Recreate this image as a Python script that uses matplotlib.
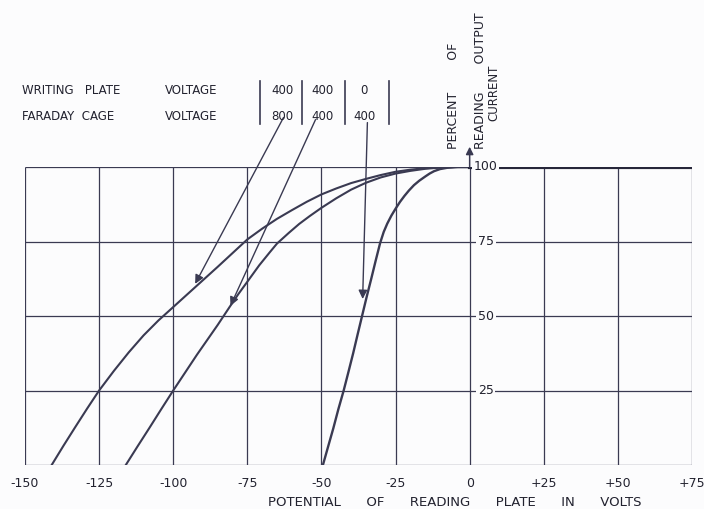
"""Reading output current vs. reading plate potential (scanned chart redraw)."""

import matplotlib
matplotlib.use("Agg")
import matplotlib.pyplot as plt

# ---------------------------------------------------------------------------
# Data
# ---------------------------------------------------------------------------

# writing plate 400 V / faraday cage 800 V
curve_a_x = [-141, -137, -133, -129, -125, -120, -115, -110, -105, -100, -95, -90,
             -85, -80, -75, -70, -65, -60, -55, -50, -45, -40, -35, -30, -25,
             -20, -15, -10, -5, 0]
curve_a_y = [0, 6.5, 12.8, 19, 25, 31.6, 37.8, 43.5, 48.5, 53, 57.5, 62,
             66.5, 71.1, 75.7, 79.3, 82.6, 85.5, 88.3, 90.8, 92.8, 94.6, 96, 97.3, 98.4,
             99.1, 99.6, 99.85, 100, 100]

# writing plate 400 V / faraday cage 400 V
curve_b_x = [-116, -112, -108, -104, -100, -96, -92, -88.5, -85, -81, -78, -75,
             -71, -67.5, -65, -61, -57.5, -54, -50, -45, -40, -35, -30, -25,
             -20, -15, -10, -5, 0]
curve_b_y = [0, 6.3, 12.5, 18.8, 25, 31, 37, 42, 47, 53, 57.4, 61.5,
             67, 71.3, 74.3, 77.9, 80.9, 83.5, 86.3, 89.5, 92.4, 94.7, 96.5, 97.8,
             98.7, 99.4, 99.8, 100, 100]

# writing plate 0 V / faraday cage 400 V
curve_c_x = [-49.5, -47.8, -46, -44.3, -42.5, -40.9, -39.3, -37.8, -36.3, -34.8,
             -33.2, -31.7, -30.2, -29, -27.8, -26.4, -25, -23.5, -22, -20.5,
             -18.8, -17, -15, -13.5, -12, -10, -7.5, -4, 0]
curve_c_y = [0, 6, 12.3, 18.7, 25, 31.2, 37.5, 43.8, 50, 56.2,
             62.5, 68.6, 74.5, 78.2, 81, 83.7, 86, 88.3, 90.3, 92.1,
             93.9, 95.4, 96.8, 97.8, 98.6, 99.3, 99.75, 100, 100]

# flat 100 % region for positive potentials
flat_x = [0, 75]
flat_y = [100, 100]

x_ticks = [-150, -125, -100, -75, -50, -25, 0, 25, 50, 75]
x_tick_labels = ["-150", "-125", "-100", "-75", "-50", "-25", "0", "+25", "+50", "+75"]
y_ticks = [0, 25, 50, 75, 100]
y_tick_labels = ["", "25", "50", "75", "100"]

writing_plate_v = ["400", "400", "0"]
faraday_cage_v = ["800", "400", "400"]

# arrows from the table columns to the curves: (start x, start y) -> (tip x, tip y)
arrow_starts = [(-62.8, 116.6), (-52.0, 115.9), (-34.5, 114.9)]
arrow_tips = [(-92.6, 60.8), (-80.7, 53.4), (-36.1, 55.7)]

# ---------------------------------------------------------------------------

INK = "#3a3a52"
TXT = "#22222f"
BG = "#fcfcfd"
W, H = 704, 509
plt.rcParams["font.family"] = "DejaVu Sans"


def fx(px):
    return px / W


def fy(py):
    return 1 - py / H


fig = plt.figure(figsize=(W / 100, H / 100), dpi=100, facecolor=BG)
ax = fig.add_axes([fx(25), fy(465), fx(692) - fx(25), fy(167) - fy(465)])
ax.set_xlim(-150, 75)
ax.set_ylim(0, 100)
ax.axis("off")

# grid
ax.vlines(x_ticks, 0, 100, color=INK, lw=0.9, zorder=1)
ax.hlines(y_ticks, -150, 75, color=INK, lw=0.9, zorder=1)

# curves
for xs, ys in [(curve_a_x, curve_a_y), (curve_b_x, curve_b_y)]:
    ax.plot(xs, ys, color=INK, lw=1.5, zorder=3)
ax.plot(curve_c_x, curve_c_y, color=INK, lw=1.7, zorder=3)
ax.plot(flat_x, flat_y, color="#26263a", lw=3.0, zorder=3)

# y tick labels sitting on the zero-volt axis
for v, lab in zip(y_ticks, y_tick_labels):
    if lab:
        ax.text(5.4, v, lab, ha="center", va="center", fontsize=9, color=TXT,
                zorder=5, bbox=dict(boxstyle="square,pad=0.15", fc=BG, ec="none"))

# x tick labels
for v, lab in zip(x_ticks, x_tick_labels):
    ax.text(v, -6.3, lab, ha="center", va="center", fontsize=9, color=TXT,
            clip_on=False)

ax.text(-5, -12.6,
        "POTENTIAL      OF      READING      PLATE      IN      VOLTS",
        ha="center", va="center", fontsize=9.5, color=TXT, clip_on=False)

# vertical axis arrow
ax.annotate("", xy=(0, 106.8), xytext=(0, 100), annotation_clip=False,
            arrowprops=dict(arrowstyle="-|>", color=INK, lw=1.1,
                            mutation_scale=11, shrinkA=0, shrinkB=0))

# rotated axis title
ax.text(-5.6, 106, "PERCENT        OF", rotation=90, ha="center", va="bottom",
        fontsize=9, color=TXT, clip_on=False)
ax.text(3.6, 106, "READING       OUTPUT", rotation=90, ha="center", va="bottom",
        fontsize=9, color=TXT, clip_on=False)
ax.text(8.0, 125, "CURRENT", rotation=90, ha="center", va="center",
        fontsize=8.5, color=TXT, clip_on=False)

# pointer arrows
for (x0, y0), (x1, y1) in zip(arrow_starts, arrow_tips):
    ax.annotate("", xy=(x1, y1), xytext=(x0, y0), annotation_clip=False,
                arrowprops=dict(arrowstyle="-|>", color=INK, lw=1.0,
                                mutation_scale=13, shrinkA=0, shrinkB=0))

# table of voltages
fig.text(fx(22), fy(91), "WRITING   PLATE", fontsize=8.5, color=TXT, va="center")
fig.text(fx(165), fy(91), "VOLTAGE", fontsize=8.5, color=TXT, va="center")
fig.text(fx(22), fy(116), "FARADAY  CAGE", fontsize=8.5, color=TXT, va="center")
fig.text(fx(165), fy(116), "VOLTAGE", fontsize=8.5, color=TXT, va="center")

col_centres = [282, 322, 364]
for cx, w_v, f_v in zip(col_centres, writing_plate_v, faraday_cage_v):
    fig.text(fx(cx), fy(91), w_v, fontsize=8.5, color=TXT, ha="center", va="center")
    fig.text(fx(cx), fy(116), f_v, fontsize=8.5, color=TXT, ha="center", va="center")

for bx in [260, 302, 345, 389]:
    fig.add_artist(plt.Line2D([fx(bx), fx(bx)], [fy(81), fy(124)],
                              color=INK, lw=1.2))

fig.savefig("out.png", dpi=100, facecolor=fig.get_facecolor())
